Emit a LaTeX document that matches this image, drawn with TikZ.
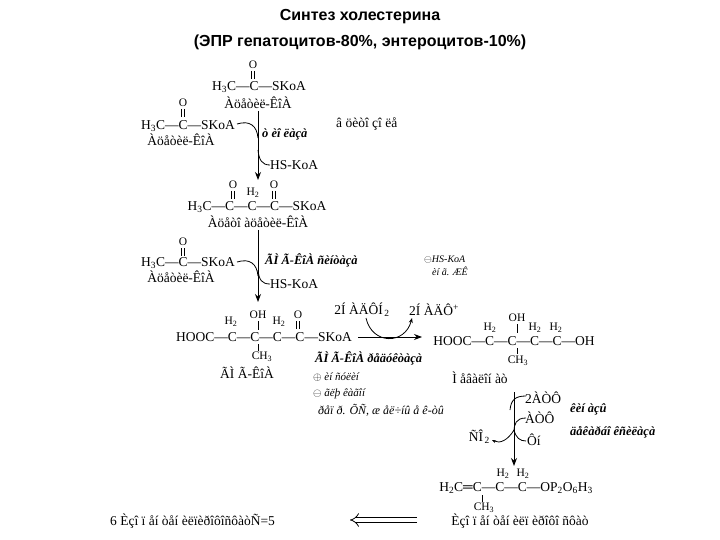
\documentclass[tikz,border=0pt]{standalone}
\usepackage{fontspec}
\setmainfont{Liberation Serif}
\newfontfamily\tsans{Liberation Sans}
\usetikzlibrary{arrows.meta}
\begin{document}
\begin{tikzpicture}[x=1pt,y=-1pt,
 t/.style={inner sep=0pt,font=\fontsize{13.5}{13.5}\selectfont},
 s/.style={inner sep=0pt,font=\fontsize{11.5}{11.5}\selectfont},
 e/.style={inner sep=0pt,anchor=west,font=\fontsize{12.5}{13}\selectfont\bfseries\itshape},
 ei/.style={inner sep=0pt,anchor=west,font=\fontsize{12}{12}\selectfont\itshape},
 ar/.style={-{Stealth[length=8pt,width=6pt]},line width=0.9pt},
 br/.style={line width=0.8pt}]
\useasboundingbox (0,0) rectangle (720,540);
\node[inner sep=0pt,font=\tsans\bfseries\fontsize{16}{16}\selectfont] (t1) at (360,17) {Синтез холестерина};
\node[inner sep=0pt,font=\tsans\bfseries\fontsize{16}{16}\selectfont] (t2) at (360,42) {(ЭПР гепатоцитов-80\%, энтероцитов-10\%)};
% acetyl-CoA 1
\node[s] (o1) at (253,65) {O};
\draw[br] (251.5,71)--(251.5,79) (254.5,71)--(254.5,79);
\node[t] (a1) at (259,87) {H\textsubscript{3}C—C—SKoA};
\node[t] (l1) at (258,103) {Àöåòèë-ÊîÀ};
% acetyl-CoA 2
\node[s] (o2) at (183,103) {O};
\draw[br] (181.5,109)--(181.5,117) (184.5,109)--(184.5,117);
\node[t] (a2) at (188,126) {H\textsubscript{3}C—C—SKoA};
\node[t] (l2) at (181,140) {Àöåòèë-ÊîÀ};
\coordinate (c1) at (258,111);
\coordinate (c2) at (258,180);
\draw[ar] (c1)--(c2);
\draw[br] (237,124) .. controls (250,120) and (257,126) .. (258,138);
\draw[br] (258,150) .. controls (259,160) and (262,165) .. (270,165);
\node[e] (en1) at (262,134) {ò èî ëàçà};
\node[t,anchor=west] (cyt) at (336,124) {â öèòî çî ëå};
\node[t,anchor=west] (hs1) at (270,165) {HS-KoA};
% acetoacetyl
\node[s] (o3) at (233,185) {O};
\node[s] (o4) at (274,185) {O};
\draw[br] (231.5,191)--(231.5,199) (234.5,191)--(234.5,199) (272.5,191)--(272.5,199) (275.5,191)--(275.5,199);
\node[s] (h1) at (253,193) {H\textsubscript{2}};
\node[t] (a3) at (257,207) {H\textsubscript{3}C—C—C—C—SKoA};
\node[t] (l3) at (258,222) {Àöåòî àöåòèë-ÊîÀ};
\coordinate (c3) at (258,230);
\coordinate (c4) at (258,302);
\draw[ar] (c3)--(c4);
% acetyl-CoA 3
\node[s] (o5) at (183,242) {O};
\draw[br] (181.5,248)--(181.5,256) (184.5,248)--(184.5,256);
\node[t] (a4) at (188,263) {H\textsubscript{3}C—C—SKoA};
\node[t] (l4) at (181,277) {Àöåòèë-ÊîÀ};
\draw[br] (237,262) .. controls (250,258) and (257,264) .. (258,276);
\draw[br] (258,270) .. controls (259,280) and (262,284) .. (270,284);
\node[e] (en2) at (265,260) {ÃÌ Ã-ÊîÀ ñèíòàçà};
\node[ei] (inh) at (424,260) {\fontsize{10}{10}\selectfont$\ominus$HS-KoA};
\node[ei,font=\fontsize{10}{10}\selectfont\itshape] (inh2) at (432,271) {èí ã. ÆÊ};
\node[t,anchor=west] (hs2) at (270,284) {HS-KoA};
% HMG-CoA
\node[s] (oh1) at (258,315) {OH};
\node[s] (o6) at (298,315) {O};
\draw[br] (296.5,321)--(296.5,329) (299.5,321)--(299.5,329) (258,321)--(258,330) (258,344)--(258,351);
\node[s] (h2) at (231,322) {H\textsubscript{2}};
\node[s] (h3) at (279,322) {H\textsubscript{2}};
\node[t] (a5) at (264,337) {HOOC—C—C—C—C—SKoA};
\node[s] (ch1) at (262,357) {CH\textsubscript{3}};
\node[t] (l5) at (247,373) {ÃÌ Ã-ÊîÀ};
\coordinate (c5) at (358,337);
\coordinate (c6) at (422,337);
\draw[ar] (c5)--(c6);
\node[t] (nad1) at (362,310) {2Í ÀÄÔÍ\textsubscript{\,2}};
\node[t] (nad2) at (434,310) {2Í ÀÄÔ\textsuperscript{+}};
\draw[br,-{Stealth[length=5pt,width=4pt]}] (366,318) .. controls (372,345) and (405,345) .. (412,318);
\node[e] (en3) at (315,358) {ÃÌ Ã-ÊîÀ ðåäóêòàçà};
\node[ei] (r1) at (313,377) {\fontsize{11}{11}\selectfont$\oplus$ èí ñóëèí};
\node[ei] (r2) at (313,394) {\fontsize{11}{11}\selectfont$\ominus$ ãëþ êàãîí};
\node[ei] (r3) at (318,410) {ðåï ð. ÕÑ, æ åë÷íû å ê-òû};
% mevalonate
\node[s] (oh2) at (517,318) {OH};
\draw[br] (517,324)--(517,333) (517,348)--(517,354);
\node[s] (h4) at (490,328) {H\textsubscript{2}};
\node[s] (h5) at (535,328) {H\textsubscript{2}};
\node[s] (h6) at (556,328) {H\textsubscript{2}};
\node[t] (a6) at (514,341) {HOOC—C—C—C—C—OH};
\node[s] (ch2) at (518,361) {CH\textsubscript{3}};
\node[t] (l6) at (480,378) {Ì åâàëîí àò};
\coordinate (c7) at (514,392);
\coordinate (c8) at (514,466);
\draw[ar] (c7)--(c8);
\draw[br] (510,410) .. controls (511,400) and (515,396) .. (526,396);
\draw[br] (514,432) .. controls (514,424) and (516,418) .. (526,418);
\draw[br,-{Stealth[length=4pt,width=3pt]}] (514,430) .. controls (508,440) and (500,444) .. (492,440);
\draw[br] (514,430) .. controls (516,438) and (520,441) .. (526,441);
\node[t,anchor=west] (at1) at (525,398) {2ÀÒÔ};
\node[t,anchor=west] (at2) at (525,418) {ÀÒÔ};
\node[t,anchor=west] (fn) at (527,440) {Ôí};
\node[t,anchor=east] (co2) at (490,437) {ÑÎ\textsubscript{\,2}};
\node[e] (en4) at (570,409) {êèí àçû};
\node[e] (en5) at (570,432) {äåêàðáî êñèëàçà};
% IPP
\node[s] (h7) at (503,474) {H\textsubscript{2}};
\node[s] (h8) at (523,474) {H\textsubscript{2}};
\node[t] (a7) at (516,488) {H\textsubscript{2}C═C—C—C—OP\textsubscript{2}O\textsubscript{6}H\textsubscript{3}};
\draw[br] (482,495)--(482,502);
\node[s] (ch3) at (484,508) {CH\textsubscript{3}};
\node[t] (l7) at (520,521) {Èçî ï åí òåí èëï èðîôî ñôàò};
\coordinate (c9) at (350,520);
\coordinate (c10) at (417,520);
\draw[-{Implies},double,double distance=4pt,line width=0.8pt] (c10)--(c9);
\node[t,anchor=west] (l8) at (110,521) {6 Èçî ï åí òåí èëïèðîôîñôàòÑ=5};
\end{tikzpicture}
\end{document}
